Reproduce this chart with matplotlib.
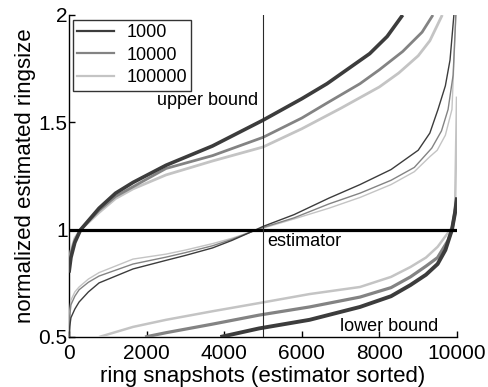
import matplotlib
matplotlib.use("Agg")
import matplotlib.pyplot as plt
from matplotlib.lines import Line2D

plt.rcParams['font.family'] = ['Liberation Sans', 'DejaVu Sans']

# ---- data ----
sizes = ["1000", "10000", "100000"]
colors = ["#3c3c3c", "#838383", "#c4c4c4"]

# upper bound curves
ub_x_1000 = [0, 50, 150, 300, 775, 1200, 1650, 2500, 3700, 5000, 6000, 6650, 7200, 7750, 8200, 8600]
ub_y_1000 = [0.80, 0.87, 0.94, 1.00, 1.10, 1.17, 1.22, 1.30, 1.39, 1.51, 1.61, 1.68, 1.75, 1.82, 1.90, 2.00]
ub_x_10000 = [0, 50, 150, 300, 775, 1200, 1650, 2500, 3700, 5000, 6000, 6650, 7500, 8000, 8600, 9100, 9380]
ub_y_10000 = [0.82, 0.89, 0.95, 1.00, 1.09, 1.155, 1.20, 1.285, 1.345, 1.43, 1.52, 1.59, 1.68, 1.745, 1.83, 1.92, 2.00]
ub_x_100000 = [0, 50, 150, 300, 775, 1200, 1650, 2500, 3700, 5000, 6000, 7000, 7500, 8000, 8500, 9000, 9300, 9620]
ub_y_100000 = [0.83, 0.90, 0.96, 1.00, 1.08, 1.145, 1.19, 1.255, 1.32, 1.385, 1.47, 1.565, 1.615, 1.665, 1.73, 1.81, 1.88, 2.00]

# estimator curves
est_x_1000 = [0, 20, 50, 150, 260, 500, 775, 1650, 2500, 3000, 3700, 4200, 4700, 5000, 5800, 6700, 7500, 8300, 9000, 9300, 9510, 9700, 9820, 9920]
est_y_1000 = [0.50, 0.55, 0.59, 0.63, 0.663, 0.71, 0.752, 0.817, 0.857, 0.88, 0.915, 0.95, 0.99, 1.015, 1.07, 1.147, 1.21, 1.28, 1.37, 1.45, 1.56, 1.67, 1.79, 2.00]
est_x_10000 = [0, 20, 50, 150, 260, 500, 775, 1650, 2500, 3000, 3700, 4200, 4700, 5000, 5800, 6700, 7500, 8300, 8900, 9350, 9600, 9770, 9900, 9970]
est_y_10000 = [0.50, 0.60, 0.65, 0.69, 0.72, 0.755, 0.784, 0.84, 0.872, 0.893, 0.925, 0.955, 0.99, 1.01, 1.055, 1.12, 1.17, 1.23, 1.29, 1.38, 1.46, 1.56, 1.72, 2.00]
est_x_100000 = [0, 20, 50, 150, 260, 500, 775, 1650, 2500, 3000, 3700, 4200, 4700, 5000, 5800, 6700, 7500, 8300, 8900, 9300, 9490, 9700, 9870, 9970]
est_y_100000 = [0.50, 0.62, 0.672, 0.71, 0.733, 0.77, 0.80, 0.863, 0.886, 0.905, 0.935, 0.96, 0.99, 1.007, 1.05, 1.10, 1.15, 1.21, 1.27, 1.34, 1.37, 1.44, 1.56, 2.00]

# lower bound curves
lb_x_1000 = [3900, 4900, 6200, 7500, 8300, 8800, 9200, 9500, 9700, 9870, 9950, 10000]
lb_y_1000 = [0.50, 0.54, 0.58, 0.64, 0.69, 0.742, 0.79, 0.84, 0.905, 1.00, 1.08, 1.15]
lb_x_10000 = [1960, 2500, 3700, 4900, 6200, 7500, 8300, 8800, 9200, 9500, 9770, 9870, 9950, 10000]
lb_y_10000 = [0.50, 0.52, 0.56, 0.602, 0.64, 0.686, 0.73, 0.78, 0.83, 0.87, 0.95, 1.00, 1.08, 1.15]
lb_x_100000 = [775, 1650, 2500, 3700, 4900, 6200, 7500, 8300, 8800, 9200, 9500, 9770, 9870, 9950, 10000]
lb_y_100000 = [0.50, 0.547, 0.58, 0.62, 0.658, 0.70, 0.733, 0.78, 0.826, 0.87, 0.92, 0.986, 1.01, 1.10, 1.62]

xticks = [0, 2000, 4000, 6000, 8000, 10000]
yticks = [0.5, 1, 1.5, 2]
ytick_labels = ["0.5", "1", "1.5", "2"]

# ---- figure ----
fig = plt.figure(figsize=(4.89, 3.87), dpi=100)
ax = fig.add_axes([69/489, 50/387, 388/489, 322/387])

ub = [(ub_x_1000, ub_y_1000), (ub_x_10000, ub_y_10000), (ub_x_100000, ub_y_100000)]
est = [(est_x_1000, est_y_1000), (est_x_10000, est_y_10000), (est_x_100000, est_y_100000)]
lb = [(lb_x_1000, lb_y_1000), (lb_x_10000, lb_y_10000), (lb_x_100000, lb_y_100000)]
ub_lw = [2.6, 2.0, 2.0]
lb_lw = [2.8, 2.3, 1.8]

for i in range(3):
    ax.plot(*ub[i], color=colors[i], lw=ub_lw[i], solid_capstyle='butt', zorder=3 - i * 0.1)
    ax.plot(*est[i], color=colors[i], lw=1.0, zorder=3 - i * 0.1)
    ax.plot(*lb[i], color=colors[i], lw=lb_lw[i], solid_capstyle='butt', zorder=3 - i * 0.1)

ax.plot([0, 10000], [1, 1], color='black', lw=2.3, zorder=4)
ax.plot([5000, 5000], [0.5, 2], color='#2a2a2a', lw=0.8, zorder=4)

ax.text(3560, 1.6, "upper bound", fontsize=13, ha='center', va='center')
ax.text(5100, 0.943, "estimator", fontsize=13, ha='left', va='center')
ax.text(6990, 0.548, "lower bound", fontsize=13, ha='left', va='center')

ax.set_xlim(0, 10000)
ax.set_ylim(0.5, 2)
ax.set_xticks(xticks)
ax.set_xticklabels([str(t) for t in xticks])
ax.set_yticks(yticks)
ax.set_yticklabels(ytick_labels)
ax.tick_params(direction='in', length=4, width=1, labelsize=15, colors='black')
ax.tick_params(axis='y', pad=1)
ax.tick_params(axis='x', pad=5)
ax.spines['top'].set_visible(False)
ax.spines['right'].set_visible(False)
for s in ('left', 'bottom'):
    ax.spines[s].set_linewidth(1.0)
ax.set_xlabel("ring snapshots (estimator sorted)", fontsize=16, labelpad=2)
ax.set_ylabel("normalized estimated ringsize", fontsize=16, labelpad=2)

handles = [Line2D([], [], color=colors[i], lw=1.6) for i in range(3)]
leg = ax.legend(handles, sizes, loc='upper left', bbox_to_anchor=(0.01, 0.985),
                borderaxespad=0, fontsize=13, handlelength=2.0, handletextpad=0.7,
                labelspacing=0.3, borderpad=0.25, frameon=True, fancybox=False)
leg.get_frame().set_edgecolor('black')
leg.get_frame().set_linewidth(1.0)

fig.savefig("out.png", dpi=100)
